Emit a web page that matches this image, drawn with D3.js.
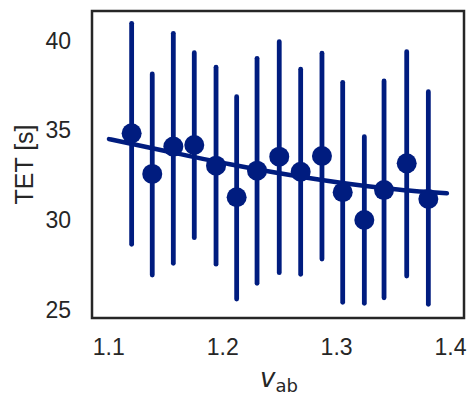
<!DOCTYPE html>
<html>
<head>
<meta charset="utf-8">
<script src="https://cdn.jsdelivr.net/npm/d3@7"></script>
<style>
  html, body { margin: 0; padding: 0; background: #fff; }
  svg { display: block; }
  text { font-family: "Liberation Sans", Arial, sans-serif; fill: #262626; }
</style>
</head>
<body>
<script>
// Binned walking speed v_ab vs. total exercise time (mean with spread)
const vab     = [1.1205, 1.1386, 1.1571, 1.1755, 1.1946, 1.2127, 1.2306, 1.2501, 1.2689, 1.2876, 1.3058, 1.3248, 1.3421, 1.3620, 1.3810];
const tetMean = [34.84, 32.58, 34.10, 34.19, 33.04, 31.28, 32.76, 33.54, 32.70, 33.58, 31.56, 30.01, 31.68, 33.17, 31.18];
const tetLow  = [28.66, 26.95, 27.60, 29.03, 27.55, 25.61, 26.49, 27.08, 26.99, 27.84, 25.43, 25.37, 25.68, 26.89, 25.32];
const tetHigh = [40.97, 38.15, 40.41, 39.33, 38.52, 36.88, 39.02, 39.94, 38.41, 39.30, 37.68, 34.65, 37.76, 39.39, 37.16];

// Fitted trend curve
const fitV   = [1.1006, 1.1542, 1.2068, 1.2595, 1.3122, 1.3561, 1.3973];
const fitTET = [34.52, 33.80, 33.12, 32.52, 32.02, 31.70, 31.50];

const xTicks = [1.1, 1.2, 1.3, 1.4];
const yTicks = [25, 30, 35, 40];

const W = 468, H = 396;
const box = { left: 92, right: 464, top: 11, bottom: 318 };
const color = "#001c7f";

const svg = d3.select("body").append("svg").attr("width", W).attr("height", H);

const x = d3.scaleLinear().domain([1.0857, 1.4123]).range([box.left, box.right]);
const y = d3.scaleLinear().domain([24.554, 41.654]).range([box.bottom, box.top]);

const pts = vab.map((v, i) => ({ v, m: tetMean[i], lo: tetLow[i], hi: tetHigh[i] }));

// Error bars
svg.append("g").selectAll("line").data(pts).join("line")
  .attr("x1", d => x(d.v)).attr("x2", d => x(d.v))
  .attr("y1", d => y(d.lo)).attr("y2", d => y(d.hi))
  .attr("stroke", color).attr("stroke-width", 4.8).attr("stroke-linecap", "round");

// Trend curve
const fit = fitV.map((v, i) => [v, fitTET[i]]);
svg.append("path").datum(fit)
  .attr("d", d3.line().x(d => x(d[0])).y(d => y(d[1])).curve(d3.curveMonotoneX))
  .attr("fill", "none").attr("stroke", color).attr("stroke-width", 4.5).attr("stroke-linecap", "round");

// Means
svg.append("g").selectAll("circle").data(pts).join("circle")
  .attr("cx", d => x(d.v)).attr("cy", d => y(d.m)).attr("r", 10)
  .attr("fill", color);

// Axes (labels only, no tick marks)
const xAxis = d3.axisBottom(x).tickValues(xTicks).tickSize(0).tickPadding(21).tickFormat(d3.format(".1f"));
const gx = svg.append("g").attr("transform", `translate(0,${box.bottom})`).call(xAxis);
gx.select(".domain").remove();
gx.selectAll("text").attr("font-size", 23).attr("font-family", "Liberation Sans, Arial, sans-serif").attr("fill", "#262626");

const yAxis = d3.axisLeft(y).tickValues(yTicks).tickSize(0).tickPadding(21);
const gy = svg.append("g").attr("transform", `translate(${box.left},0)`).call(yAxis);
gy.select(".domain").remove();
gy.selectAll("text").attr("font-size", 23).attr("font-family", "Liberation Sans, Arial, sans-serif").attr("fill", "#262626");

// Frame
svg.append("rect")
  .attr("x", box.left).attr("y", box.top)
  .attr("width", box.right - box.left).attr("height", box.bottom - box.top)
  .attr("fill", "none").attr("stroke", "#262626").attr("stroke-width", 2.5);

// Axis titles
svg.append("text")
  .attr("transform", `translate(33,${(box.top + box.bottom) / 2}) rotate(-90)`)
  .attr("text-anchor", "middle").attr("font-size", 25)
  .text("TET [s]");

const xl = svg.append("text")
  .attr("x", (box.left + box.right) / 2 + 1).attr("y", 387)
  .attr("text-anchor", "middle");
xl.append("tspan").attr("font-family", "DejaVu Sans").attr("font-style", "italic").attr("font-size", 26).text("v");
xl.append("tspan").attr("font-family", "DejaVu Sans").attr("font-size", 18).attr("dy", 5).text("ab");
</script>
</body>
</html>
